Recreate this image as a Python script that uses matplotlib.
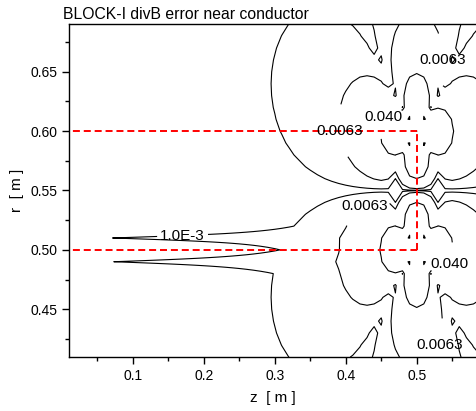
import numpy as np
import matplotlib
matplotlib.use("Agg")
import matplotlib.pyplot as plt
from matplotlib.ticker import MultipleLocator

plt.rcParams['font.family'] = ['Liberation Sans', 'DejaVu Sans']

# ---- chart text / data ----
title = "BLOCK-I divB error near conductor"
xlabel = "z  [ m ]"
ylabel = "r  [ m ]"
levels = [1.0e-3, 0.0063, 0.040]
level_fmt = {1.0e-3: "1.0E-3", 0.0063: "0.0063", 0.040: "0.040"}

# conductor outline (red dashed)
cond_z = [0.0, 0.5]
cond_r = [0.5, 0.6]

# field sources: the two conductor corners (z, r), outward sign, amplitude
corner_z = [0.5, 0.5]
corner_r = [0.6, 0.5]
corner_out = [1, -1]
corner_amp = [4.0e-5, -4.0e-5]
decay_pow = 2.3
# surface ridges along the lower face (r rows, amplitude at corner, e-fold length, fade-out)
ridge_r = [0.49, 0.51]
ridge_amp = [1.93e-3, 1.97e-3]
ridge_len = 0.6
ridge_end = [0.33, 0.42]

# label anchor points (z, r) per level
label_pos = {
    1.0e-3: [(0.17, 0.512)],
    0.0063: [(0.392, 0.60), (0.429, 0.535), (0.53, 0.66), (0.53, 0.42)],
    0.040: [(0.457, 0.61), (0.549, 0.487)],
}

# grid of the computed field
grid_z = np.arange(0.0, 0.6001, 0.01)
grid_r = np.arange(0.40, 0.7001, 0.01)

Z, R = np.meshgrid(grid_z, grid_r)
G = np.zeros_like(Z)
for zc, rc, s, A in zip(corner_z, corner_r, corner_out, corner_amp):
    x = Z - zc
    y = s * (R - rc)
    rho = np.hypot(x, y)
    th = np.arctan2(y, x)
    term = A * np.cos(2 * th) / np.maximum(rho, 0.005) ** decay_pow
    G += np.where(rho < 0.005, 0.0, term)
F = np.abs(G)
for rr, a in zip(ridge_r, ridge_amp):
    fade = np.clip((ridge_end[1] - Z) / (ridge_end[1] - ridge_end[0]), 0, 1)
    F += a * np.exp((Z - 0.5) / ridge_len) * (np.abs(R - rr) < 1e-6) * fade

fig = plt.figure(figsize=(4.77, 4.11), dpi=100)
ax = fig.add_axes([0.1457, 0.1321, 0.8543, 0.8088])
for lev in levels:
    cs = ax.contour(Z, R, F, levels=[lev], colors='black', linewidths=0.8)
    ax.clabel(cs, fmt=level_fmt, fontsize=11, inline=True,
              inline_spacing=2, manual=label_pos[lev])
for t in ax.texts:
    t.set_rotation(0)

ls = (0, (3.6, 2.0))
ax.plot([cond_z[0], cond_z[1]], [cond_r[1], cond_r[1]], color='red', ls=ls, lw=1.4)
ax.plot([cond_z[0], cond_z[1]], [cond_r[0], cond_r[0]], color='red', ls=ls, lw=1.4)
ax.plot([cond_z[1], cond_z[1]], [cond_r[0], cond_r[1]], color='red', ls=ls, lw=1.4)

ax.set_xlim(0.0106, 0.585)
ax.set_ylim(0.41, 0.69)
ax.xaxis.set_major_locator(MultipleLocator(0.1))
ax.xaxis.set_minor_locator(MultipleLocator(0.05))
ax.yaxis.set_major_locator(MultipleLocator(0.05))
ax.yaxis.set_minor_locator(MultipleLocator(0.025))
ax.tick_params(which='both', direction='out', labelsize=10, width=1)
ax.tick_params(which='major', length=5)
ax.tick_params(which='minor', length=3)
ax.spines['right'].set_visible(False)
for sp in ['left', 'bottom', 'top']:
    ax.spines[sp].set_linewidth(1.0)
ax.set_xlabel(xlabel, fontsize=11, labelpad=6)
ax.set_ylabel(ylabel, fontsize=11, labelpad=5)
ax.set_title(title, fontsize=11.3, loc='left', x=-0.015, pad=4)

fig.savefig("out.png", dpi=100)
